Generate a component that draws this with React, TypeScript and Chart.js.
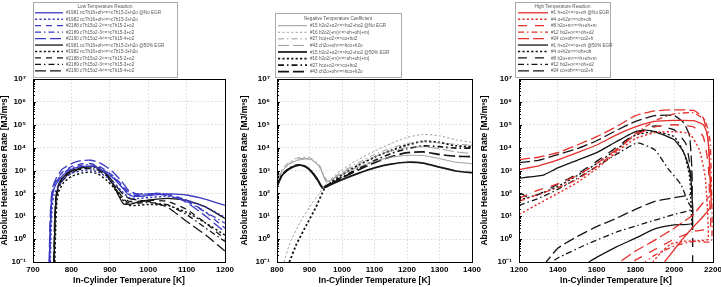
import React, { useEffect, useRef } from 'react';
import { Chart, registerables } from 'chart.js';
Chart.register(...registerables);

type Pt = [number, number];

// ---------- tick labels ----------
const yTickValues = [0.1, 1, 10, 100, 1e3, 1e4, 1e5, 1e6, 1e7];
const yTickLabels = ['10⁻¹', '10⁰', '10¹', '10²', '10³', '10⁴', '10⁵', '10⁶', '10⁷'];
const yTitle = 'Absolute Heat-Release Rate [MJ/m³s]';
const xTitle = 'In-Cylinder Temperature [K]';

// ---------- Panel 1: Low Temperature Reaction ----------
const ltTitle = 'Low Temperature Reaction';
const ltLabels = [
  '#1981 nc7h16+oh<=>c7h15-2+h2o @No EGR',
  '#1982 nc7h16+oh<=>c7h15-3+h2o',
  '#2188 c7h15o2-2<=>c7h15-2+o2',
  '#2189 c7h15o2-3<=>c7h15-3+o2',
  '#2190 c7h15o2-4<=>c7h15-4+o2',
  '#1981 nc7h16+oh<=>c7h15-2+h2o @50% EGR',
  '#1982 nc7h16+oh<=>c7h15-3+h2o',
  '#2188 c7h15o2-2<=>c7h15-2+o2',
  '#2189 c7h15o2-3<=>c7h15-3+o2',
  '#2190 c7h15o2-4<=>c7h15-4+o2',
];
const lt1981No: Pt[] = [[743,0.1],[745,2],[748,30],[752,110],[760,250],[775,550],[790,900],[810,1300],[830,1500],[850,1550],[870,1250],[890,800],[910,450],[930,200],[945,100],[960,75],[980,75],[1000,80],[1030,90],[1060,95],[1100,85],[1150,55],[1200,30]];
const lt1982No: Pt[] = [[745,0.1],[747,2],[750,25],[755,90],[765,200],[780,450],[800,750],[830,1000],[850,1050],[870,850],[890,550],[910,300],[930,130],[950,65],[975,60],[1000,65],[1050,75],[1100,50],[1150,25],[1200,9]];
const lt2188No: Pt[] = [[743,0.1],[745,3],[748,40],[752,150],[760,350],[775,800],[800,1500],[830,2000],[850,2000],[870,1600],[890,1000],[910,550],[930,250],[950,110],[970,90],[1000,95],[1030,100],[1060,85],[1100,50],[1150,15],[1200,3]];
const lt2189No: Pt[] = [[743,0.1],[745,3],[748,35],[752,130],[760,300],[775,700],[800,1300],[830,1750],[850,1800],[870,1450],[890,900],[910,500],[930,220],[950,100],[970,80],[1000,85],[1030,90],[1060,75],[1100,45],[1150,15],[1200,5]];
const lt2190No: Pt[] = [[742,0.1],[744,4],[747,50],[751,180],[760,450],[775,1100],[800,2000],[825,2700],[850,2800],[870,2300],[890,1500],[910,800],[930,350],[950,130],[970,95],[1000,95],[1030,100],[1060,80],[1100,40],[1150,10],[1200,2]];
const lt1981Egr: Pt[] = [[755,0.1],[757,5],[760,60],[765,180],[775,400],[790,750],[810,1100],[830,1350],[855,1500],[870,1300],[890,700],[905,300],[920,100],[935,35],[950,33],[970,40],[1000,50],[1050,60],[1100,50],[1150,25],[1200,8]];
const lt1982Egr: Pt[] = [[757,0.1],[759,3],[762,40],[767,120],[780,300],[800,550],[830,800],[850,850],[870,700],[890,400],[910,180],[930,60],[950,30],[975,30],[1000,33],[1050,30],[1100,15],[1150,5],[1200,1.5]];
const lt2188Egr: Pt[] = [[755,0.1],[757,4],[760,50],[765,150],[775,350],[790,650],[810,1000],[835,1250],[855,1300],[870,1100],[890,650],[910,250],[930,80],[950,45],[975,45],[1000,50],[1050,45],[1100,20],[1150,5],[1200,1]];
const lt2189Egr: Pt[] = [[755,0.1],[757,4],[760,45],[765,140],[775,330],[790,600],[810,950],[835,1200],[855,1200],[870,1000],[890,600],[910,220],[930,70],[950,38],[975,38],[1000,40],[1050,32],[1100,12],[1150,3],[1200,0.8]];
const lt2190Egr: Pt[] = [[754,0.1],[756,5],[759,60],[764,190],[775,450],[790,800],[810,1200],[835,1450],[855,1450],[870,1250],[890,750],[910,300],[930,110],[950,60],[975,50],[1000,45],[1050,25],[1100,6],[1150,1.5],[1200,0.3]];

// ---------- Panel 2: Negative Temperature Coefficient ----------
const ntcTitle = 'Negative Temperature Coefficient';
const ntcLabels = [
  '#15 h2o2+o2<=>ho2+ho2 @No EGR',
  '#16 h2o2(+m)<=>oh+oh(+m)',
  '#27 hco+o2<=>co+ho2',
  '#43 ch2o+oh<=>hco+h2o',
  '#15 h2o2+o2<=>ho2+ho2 @50% EGR',
  '#16 h2o2(+m)<=>oh+oh(+m)',
  '#27 hco+o2<=>co+ho2',
  '#43 ch2o+oh<=>hco+h2o',
];
const ntc15No: Pt[] = [[800,300],[815,900],[835,1800],[860,2700],[885,3200],[905,3000],[925,1900],[940,800],[950,320],[960,330],[980,500],[1000,700],[1050,1400],[1100,2500],[1150,3800],[1200,4600],[1250,4500],[1300,3300],[1350,2300],[1400,2000]];
const ntc16No: Pt[] = [[822,0.1],[840,0.7],[870,5],[900,25],[930,100],[950,250],[980,650],[1000,1100],[1050,3000],[1100,7000],[1150,15000],[1200,28000],[1250,38000],[1300,33000],[1350,22000],[1400,17000]];
const ntc27No: Pt[] = [[800,450],[820,1400],[845,2800],[870,3800],[890,3900],[910,3200],[930,1800],[945,600],[955,350],[970,450],[1000,900],[1050,2200],[1100,5000],[1150,9500],[1200,15000],[1250,18000],[1300,16000],[1350,14000],[1400,13000]];
const ntc43No: Pt[] = [[800,380],[820,1200],[845,2400],[870,3300],[890,3400],[910,2700],[930,1500],[945,500],[955,330],[970,420],[1000,800],[1050,1900],[1100,4000],[1150,7000],[1200,10000],[1250,11000],[1300,9000],[1350,6500],[1400,5500]];
const ntc15Egr: Pt[] = [[800,200],[815,600],[835,1100],[855,1550],[870,1700],[885,1550],[900,1100],[915,650],[930,300],[940,170],[955,200],[975,280],[1000,400],[1050,750],[1100,1300],[1150,1900],[1200,2300],[1250,2100],[1300,1400],[1350,950],[1400,800]];
const ntc16Egr: Pt[] = [[838,0.1],[860,0.6],[890,4],[920,25],[945,150],[970,330],[1000,650],[1050,1700],[1100,3800],[1150,7500],[1200,13000],[1250,19000],[1300,17000],[1350,12000],[1400,11000]];
const ntc27Egr: Pt[] = [[800,230],[815,650],[835,1200],[855,1650],[870,1750],[885,1600],[900,1100],[915,650],[930,300],[940,190],[955,230],[975,330],[1000,520],[1050,1200],[1100,2700],[1150,5500],[1200,9000],[1250,12000],[1300,11000],[1350,9500],[1400,9500]];
const ntc43Egr: Pt[] = [[800,210],[815,620],[835,1150],[855,1600],[870,1700],[885,1550],[900,1050],[915,600],[930,280],[940,180],[955,215],[975,310],[1000,480],[1050,1050],[1100,2200],[1150,4000],[1200,6000],[1250,6500],[1300,5000],[1350,4200],[1400,4000]];

// ---------- Panel 3: High Temperature Reaction ----------
const htTitle = 'High Temperature Reaction';
const htLabels = [
  '#1 h+o2<=>o+oh @No EGR',
  '#4 o+h2o<=>oh+oh',
  '#8 h2o+m<=>h+oh+m',
  '#12 ho2+o<=>oh+o2',
  '#24 co+oh<=>co2+h',
  '#1 h+o2<=>o+oh @50% EGR',
  '#4 o+h2o<=>oh+oh',
  '#8 h2o+m<=>h+oh+m',
  '#12 ho2+o<=>oh+o2',
  '#24 co+oh<=>co2+h',
];
const ht1No: Pt[] = [[1200,1100],[1300,1600],[1400,2900],[1500,6000],[1600,13000],[1700,35000],[1800,80000],[1900,140000],[2000,155000],[2100,150000],[2150,100000],[2170,40000],[2180,5000],[2186,300],[2190,28],[2150,10],[2100,3.5],[2050,1.2],[2000,0.35],[1950,0.1]];
const ht4No: Pt[] = [[1200,12],[1300,35],[1400,100],[1500,300],[1600,1200],[1700,6000],[1800,25000],[1900,45000],[2000,50000],[2080,40000],[2130,8000],[2160,500],[2175,1],[2120,0.85],[2050,0.8],[1980,0.6],[1930,0.25],[1890,0.1]];
const ht8No: Pt[] = [[1200,60],[1300,140],[1400,260],[1500,600],[1600,2000],[1700,8000],[1800,35000],[1900,80000],[2000,100000],[2100,80000],[2150,30000],[2175,2000],[2183,50],[2185,3],[2100,2.2],[2000,1],[1900,0.35],[1800,0.12],[1780,0.1]];
const ht12No: Pt[] = [[1200,45],[1300,90],[1400,180],[1500,400],[1600,1500],[1700,7000],[1800,40000],[1900,150000],[2000,300000],[2100,330000],[2160,150000],[2185,20000],[2191,500],[2192,0.8],[2100,0.8],[2000,0.5],[1900,0.2],[1850,0.1]];
const ht24No: Pt[] = [[1200,3000],[1300,3800],[1400,6000],[1500,13000],[1600,30000],[1700,80000],[1800,250000],[1900,400000],[2000,450000],[2100,420000],[2150,200000],[2175,20000],[2185,500],[2190,90],[2150,40],[2100,12],[2050,6],[2000,3],[1900,0.9],[1800,0.3],[1720,0.1]];
const ht1Egr: Pt[] = [[1200,450],[1250,520],[1300,580],[1330,650],[1400,1300],[1500,2800],[1600,6000],[1700,18000],[1800,50000],[1850,58000],[1900,50000],[2000,22000],[2050,6000],[2075,1500],[2088,300],[2092,5],[2000,4.2],[1900,2.8],[1800,1.1],[1700,0.45],[1600,0.16],[1560,0.1]];
const ht4Egr: Pt[] = [[1200,50],[1300,90],[1400,200],[1500,600],[1600,2000],[1700,8000],[1800,35000],[1900,50000],[2000,30000],[2050,6000],[2080,500],[2092,2]];
const ht8Egr: Pt[] = [[1200,100],[1220,90],[1240,70],[1300,90],[1400,250],[1500,700],[1600,2500],[1700,10000],[1800,40000],[1900,90000],[2000,60000],[2060,15000],[2085,1000],[2095,20],[2095,0.1]];
const ht12Egr: Pt[] = [[1200,30],[1300,60],[1400,150],[1500,450],[1600,1500],[1700,5000],[1810,16000],[1900,8000],[1966,1300],[2035,240],[2070,45],[2090,20],[2000,12],[1850,5],[1700,2],[1550,0.6],[1400,0.15],[1370,0.1]];
const ht24Egr: Pt[] = [[1200,2200],[1300,2800],[1400,5000],[1500,9000],[1600,20000],[1700,55000],[1800,140000],[1900,250000],[2000,250000],[2050,120000],[2080,30000],[2090,100],[2000,65],[1900,45],[1800,20],[1700,8],[1600,3.5],[1500,1.3],[1400,0.4],[1340,0.1]];

// ---------- styles ----------
const BLUE = '#3a3ac4';
const RED = '#e3302c';
const GRAY = '#9c9c9c';
const BLACK = '#141414';
const FONT = '"Liberation Sans", Arial, sans-serif';
const DASH: Record<string, number[]> = {
  solid: [],
  dot: [2.2, 2.2],
  dash: [6, 5],
  dashDot: [6, 3, 1.5, 3],
  longDash: [11, 4],
  sparse: [9, 8],
};

type Series = { label: string; data: Pt[]; color: string; dash: number[]; width: number };
type PanelCfg = {
  left: number; width: number; yW: number; padRight: number;
  xMin: number; xMax: number; xStep: number;
  series: Series[];
  legend: { x: number; y: number; w: number; h: number; title: string; titleY: number; firstY: number; gap: number; sx: number; sw: number };
};

const mk = (labels: string[], datas: Pt[][], colors: string[], dashes: string[], widths: number[]): Series[] =>
  labels.map((label, i) => ({ label, data: datas[i], color: colors[i], dash: DASH[dashes[i]], width: widths[i] }));

const panels: PanelCfg[] = [
  {
    left: 0, width: 240, yW: 33, padRight: 15, xMin: 700, xMax: 1200, xStep: 100,
    series: mk(ltLabels,
      [lt1981No, lt1982No, lt2188No, lt2189No, lt2190No, lt1981Egr, lt1982Egr, lt2188Egr, lt2189Egr, lt2190Egr],
      [BLUE, BLUE, BLUE, BLUE, BLUE, BLACK, BLACK, BLACK, BLACK, BLACK],
      ['solid', 'dot', 'dash', 'dashDot', 'longDash', 'solid', 'dot', 'dash', 'dashDot', 'longDash'],
      [1.3, 1.5, 1.3, 1.3, 1.3, 1.3, 1.5, 1.3, 1.3, 1.3]),
    legend: { x: 33, y: 2, w: 144, h: 75, title: ltTitle, titleY: 6.5, firstY: 12.8, gap: 6.45, sx: 35, sw: 28 },
  },
  {
    left: 240, width: 245, yW: 37, padRight: 13, xMin: 800, xMax: 1400, xStep: 100,
    series: mk(ntcLabels,
      [ntc15No, ntc16No, ntc27No, ntc43No, ntc15Egr, ntc16Egr, ntc27Egr, ntc43Egr],
      [GRAY, GRAY, GRAY, GRAY, BLACK, BLACK, BLACK, BLACK],
      ['solid', 'dot', 'dashDot', 'longDash', 'solid', 'dot', 'dashDot', 'longDash'],
      [1, 1, 1, 1, 1.7, 1.8, 1.7, 1.7]),
    legend: { x: 35, y: 13, w: 126, h: 64, title: ntcTitle, titleY: 19, firstY: 25.7, gap: 6.57, sx: 38, sw: 29 },
  },
  {
    left: 480, width: 241, yW: 39, padRight: 8, xMin: 1200, xMax: 2200, xStep: 200,
    series: mk(htLabels,
      [ht1No, ht4No, ht8No, ht12No, ht24No, ht1Egr, ht4Egr, ht8Egr, ht12Egr, ht24Egr],
      [RED, RED, RED, RED, RED, BLACK, BLACK, BLACK, BLACK, BLACK],
      ['solid', 'dot', 'sparse', 'dashDot', 'longDash', 'solid', 'dot', 'sparse', 'dashDot', 'longDash'],
      [1.3, 1.4, 1.3, 1.3, 1.3, 1.3, 1.4, 1.3, 1.3, 1.3]),
    legend: { x: 35, y: 2, w: 95, h: 75, title: htTitle, titleY: 6.5, firstY: 12.8, gap: 6.45, sx: 38, sw: 30 },
  },
];

function makeLegendPlugin(lg: PanelCfg['legend']) {
  return {
    id: 'boxLegend',
    afterDraw(chart: any) {
      const ctx = chart.ctx as CanvasRenderingContext2D;
      ctx.save();
      ctx.fillStyle = '#ffffff';
      ctx.fillRect(lg.x, lg.y, lg.w, lg.h);
      ctx.strokeStyle = '#aaaaaa';
      ctx.lineWidth = 1;
      ctx.setLineDash([]);
      ctx.strokeRect(lg.x + 0.5, lg.y + 0.5, lg.w, lg.h);
      ctx.font = `4.6px ${FONT}`;
      ctx.fillStyle = '#555555';
      ctx.textBaseline = 'middle';
      ctx.textAlign = 'center';
      ctx.fillText(lg.title, lg.x + lg.w / 2, lg.titleY);
      ctx.textAlign = 'left';
      chart.data.datasets.forEach((ds: any, i: number) => {
        const y = lg.firstY + i * lg.gap;
        ctx.strokeStyle = ds.borderColor;
        ctx.lineWidth = ds.borderWidth;
        ctx.setLineDash(ds.borderDash || []);
        ctx.beginPath();
        ctx.moveTo(lg.sx, y);
        ctx.lineTo(lg.sx + lg.sw, y);
        ctx.stroke();
        ctx.setLineDash([]);
        ctx.fillStyle = '#555555';
        ctx.fillText(ds.label, lg.sx + lg.sw + 3, y + 0.3);
      });
      ctx.restore();
    },
  };
}

const framePlugin = {
  id: 'frame',
  afterDatasetsDraw(chart: any) {
    const { ctx, chartArea } = chart;
    const ys = chart.scales.y;
    ctx.save();
    ctx.strokeStyle = '#000';
    ctx.lineWidth = 1;
    ctx.setLineDash([]);
    ctx.strokeRect(chartArea.left + 0.5, chartArea.top + 0.5, chartArea.right - chartArea.left, chartArea.bottom - chartArea.top);
    ctx.beginPath();
    for (let e = -1; e < 7; e++) {
      for (let m = 1; m <= 9; m++) {
        const y = Math.round(ys.getPixelForValue(m * Math.pow(10, e))) + 0.5;
        const len = m === 1 ? 3 : 2;
        ctx.moveTo(chartArea.left, y);
        ctx.lineTo(chartArea.left + len, y);
      }
    }
    ctx.stroke();
    ctx.restore();
  },
};

function buildConfig(p: PanelCfg): any {
  return {
    type: 'line',
    data: {
      datasets: p.series.map((s) => ({
        label: s.label,
        data: s.data.map(([x, y]) => ({ x, y })),
        borderColor: s.color,
        backgroundColor: s.color,
        borderDash: s.dash,
        borderWidth: s.width,
        pointRadius: 0,
        fill: false,
        tension: 0.15,
      })),
    },
    options: {
      responsive: false,
      animation: false,
      devicePixelRatio: 1,
      layout: { padding: { top: 79, left: 0, right: p.padRight, bottom: 0 } },
      plugins: { legend: { display: false }, tooltip: { enabled: false } },
      scales: {
        x: {
          type: 'linear',
          min: p.xMin,
          max: p.xMax,
          ticks: {
            stepSize: p.xStep, color: '#000', padding: 3, maxRotation: 0,
            font: { family: FONT, size: 8, weight: 'bold' },
            callback: (v: any) => String(v),
          },
          grid: { color: '#cfcfcf', lineWidth: 0.8, drawTicks: false },
          border: { display: false, dash: [1.5, 2] },
          title: { display: true, text: xTitle, color: '#000', padding: { top: 0, bottom: 1 }, font: { family: FONT, size: 8.5, weight: 'bold' } },
          afterFit: (s: any) => { s.height = 25; s.paddingLeft = 0; s.paddingRight = 0; },
        },
        y: {
          type: 'logarithmic',
          min: 0.1,
          max: 1e7,
          afterBuildTicks: (s: any) => { s.ticks = yTickValues.map((v) => ({ value: v })); },
          ticks: {
            autoSkip: false,
            color: '#000',
            padding: 7,
            font: { family: FONT, size: 8, weight: 'bold' },
            callback: (_v: any, i: number) => yTickLabels[i],
          },
          grid: { color: '#cfcfcf', lineWidth: 0.8, drawTicks: false },
          border: { display: false, dash: [1.5, 2] },
          title: { display: true, text: yTitle, color: '#000', padding: { top: 0, bottom: 0 }, font: { family: FONT, size: 8.5, weight: 'bold' } },
          afterFit: (s: any) => { s.width = p.yW; },
        },
      },
    },
    plugins: [framePlugin, makeLegendPlugin(p.legend)],
  };
}

function Panel({ p }: { p: PanelCfg }) {
  const ref = useRef<HTMLCanvasElement>(null);
  useEffect(() => {
    const chart = new Chart(ref.current as HTMLCanvasElement, buildConfig(p));
    return () => chart.destroy();
  }, [p]);
  return (
    <canvas
      ref={ref}
      width={p.width}
      height={287}
      style={{ position: 'absolute', left: p.left, top: 0, width: p.width, height: 287 }}
    />
  );
}

export default function App() {
  return (
    <div style={{ position: 'fixed', left: 0, top: 0, width: 721, height: 287, background: '#fff', overflow: 'hidden' }}>
      {panels.map((p, i) => (
        <Panel key={i} p={p} />
      ))}
    </div>
  );
}
